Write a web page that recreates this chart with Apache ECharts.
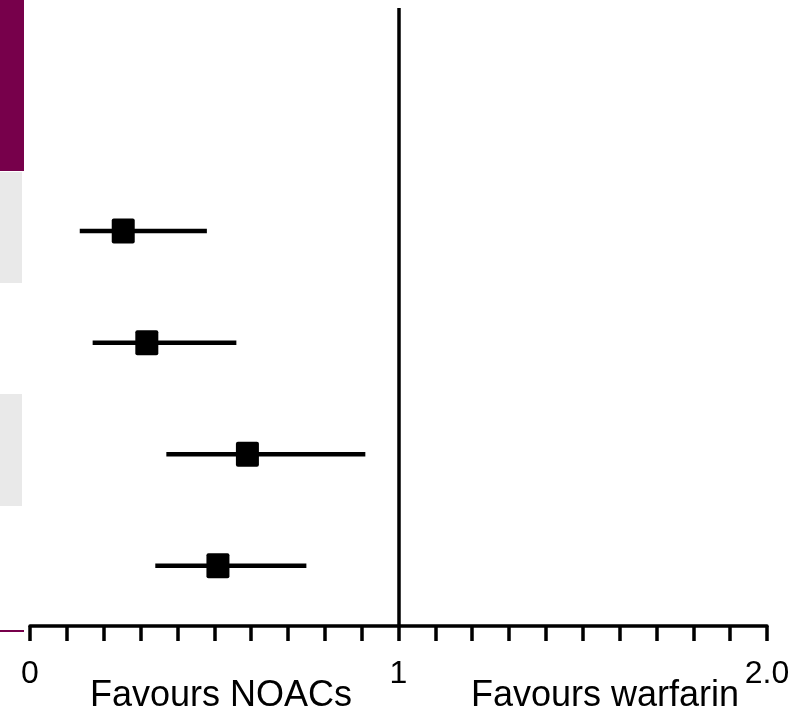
<!DOCTYPE html>
<html>
<head>
<meta charset="utf-8">
<script src="https://cdn.jsdelivr.net/npm/echarts@6/dist/echarts.min.js"></script>
<style>
  html, body { margin: 0; padding: 0; background: #ffffff; }
  #chart { width: 808px; height: 718px; }
</style>
</head>
<body>
<div id="chart"></div>
<script>
// Forest plot: hazard ratios (point estimate with 95% CI) for NOACs vs warfarin
const rows = [1, 2, 3, 4];                 // row order, top to bottom
const estimates = [0.253, 0.317, 0.590, 0.510];
const lowerCI = [0.135, 0.170, 0.370, 0.340];
const upperCI = [0.480, 0.560, 0.910, 0.750];
const tickValues = [0, 1, 2];
const tickLabels = ['0', '1', '2.0'];
const leftLabel = 'Favours NOACs';
const rightLabel = 'Favours warfarin';
const referenceValue = 1;

const PURPLE = '#77004b';
const GREY = '#e9e9e9';
const FONT = '"Liberation Sans", Arial, sans-serif';

const ciData = rows.map((r, i) => [lowerCI[i], upperCI[i], r]);
const pointData = rows.map((r, i) => [estimates[i], r]);

const chart = echarts.init(document.getElementById('chart'), null, { renderer: 'canvas' });

chart.setOption({
  animation: false,
  backgroundColor: '#ffffff',
  grid: { left: 30, right: 41, top: 8, bottom: 92, containLabel: false },
  xAxis: {
    type: 'value',
    min: 0,
    max: 2,
    interval: 0.1,
    splitLine: { show: false },
    axisLine: { show: true, onZero: false, lineStyle: { color: '#000', width: 3.5 } },
    axisTick: { show: true, length: 15, lineStyle: { color: '#000', width: 3.5 } },
    axisLabel: {
      margin: 32,
      fontFamily: FONT,
      fontSize: 32,
      color: '#000',
      formatter: function (v) {
        const k = tickValues.findIndex(t => Math.abs(t - v) < 1e-6);
        return k >= 0 ? tickLabels[k] : '';
      }
    }
  },
  yAxis: {
    type: 'value',
    inverse: true,
    min: -1,
    max: 4.54,
    show: false
  },
  series: [
    {
      type: 'custom',
      name: 'CI',
      data: ciData,
      encode: { x: [0, 1], y: 2 },
      renderItem: function (params, api) {
        const a = api.coord([api.value(0), api.value(2)]);
        const b = api.coord([api.value(1), api.value(2)]);
        return {
          type: 'line',
          shape: { x1: a[0], y1: a[1], x2: b[0], y2: b[1] },
          style: { stroke: '#000', lineWidth: 4.5 }
        };
      },
      z: 2
    },
    {
      type: 'scatter',
      name: 'HR',
      data: pointData,
      symbol: 'path://M2,0 L21,0 Q23,0 23,2 L23,23 Q23,25 21,25 L2,25 Q0,25 0,23 L0,2 Q0,0 2,0 Z',
      symbolSize: [23, 25],
      itemStyle: { color: '#000', opacity: 1 },
      z: 3,
      markLine: {
        silent: true,
        symbol: 'none',
        label: { show: false },
        lineStyle: { color: '#000', width: 3.5, type: 'solid' },
        data: [{ xAxis: referenceValue }]
      }
    }
  ],
  graphic: [
    // edge of the adjoining table panel
    { type: 'rect', left: 0, top: 0, shape: { width: 24, height: 171 }, style: { fill: PURPLE }, silent: true },
    { type: 'rect', left: 0, top: 172, shape: { width: 22, height: 111 }, style: { fill: GREY }, silent: true },
    { type: 'rect', left: 0, top: 394, shape: { width: 22, height: 112 }, style: { fill: GREY }, silent: true },
    { type: 'rect', left: 0, top: 630, shape: { width: 24, height: 2 }, style: { fill: PURPLE }, silent: true },
    {
      type: 'text', x: 221, y: 714, silent: true,
      style: { text: leftLabel, font: '36px ' + FONT, fill: '#000', align: 'center', verticalAlign: 'bottom' }
    },
    {
      type: 'text', x: 605, y: 714, silent: true,
      style: { text: rightLabel, font: '36px ' + FONT, fill: '#000', align: 'center', verticalAlign: 'bottom' }
    }
  ]
});
</script>
</body>
</html>
